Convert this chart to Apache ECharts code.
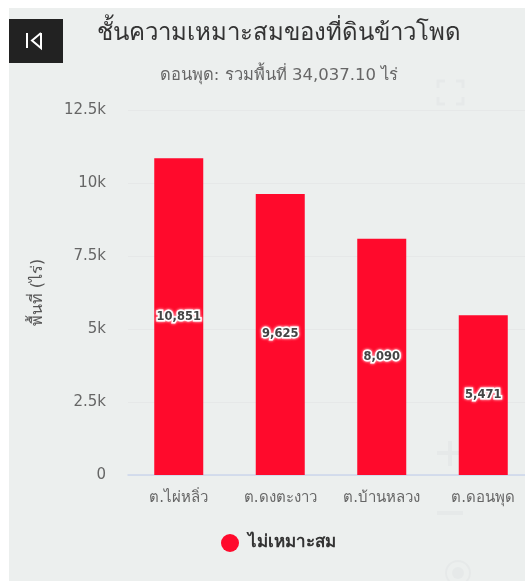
<!DOCTYPE html>
<html>
<head>
<meta charset="utf-8">
<style>html,body{margin:0;padding:0;background:#fff;overflow:hidden}#main{width:525px;height:581px}</style>
<script src="https://cdn.jsdelivr.net/npm/echarts@6/dist/echarts.min.js"></script>
</head>
<body>
<div id="main"></div>
<script>
var categories = ['ต.ไผ่หลิ่ว', 'ต.ดงตะงาว', 'ต.บ้านหลวง', 'ต.ดอนพุด'];
var values = [10851, 9625, 8090, 5471];
var seriesName = 'ไม่เหมาะสม';
var titleText = 'ชั้นความเหมาะสมของที่ดินข้าวโพด';
var subtitleText = 'ดอนพุด: รวมพื้นที่ 34,037.10 ไร่';
var yName = 'พื้นที่ (ไร่)';

var font = '"DejaVu Sans", "Noto Sans", sans-serif';
var ghost = '#e6e9e9';
var myChart = echarts.init(document.getElementById('main'), null, { renderer: 'canvas' });

function bracket(points) {
  return { type: 'polyline', z: -9, shape: { points: points }, style: { fill: 'none', stroke: ghost, lineWidth: 3 } };
}

var option = {
  animation: false,
  backgroundColor: '#ffffff',
  graphic: [
    { type: 'rect', z: -10, shape: { x: 9, y: 8, width: 516, height: 573 }, style: { fill: '#ecefee' } },
    // faint map controls showing through the panel
    bracket([[438, 88], [438, 81], [445, 81]]),
    bracket([[456, 81], [463, 81], [463, 88]]),
    bracket([[438, 97], [438, 104], [445, 104]]),
    bracket([[456, 104], [463, 104], [463, 97]]),
    { type: 'rect', z: -9, shape: { x: 437, y: 451, width: 26, height: 4 }, style: { fill: ghost } },
    { type: 'rect', z: -9, shape: { x: 448, y: 441, width: 4, height: 25 }, style: { fill: ghost } },
    { type: 'rect', z: -9, shape: { x: 437, y: 511, width: 26, height: 4 }, style: { fill: ghost } },
    { type: 'circle', z: -9, shape: { cx: 458, cy: 573, r: 12 }, style: { fill: 'none', stroke: ghost, lineWidth: 2 } },
    { type: 'circle', z: -9, shape: { cx: 458, cy: 573, r: 6 }, style: { fill: ghost } },
    // back button
    { type: 'rect', z: 10, shape: { x: 9, y: 19, width: 54, height: 44 }, style: { fill: '#222222' } },
    { type: 'rect', z: 11, shape: { x: 26, y: 33, width: 2, height: 15 }, style: { fill: '#ffffff' } },
    { type: 'polyline', z: 11, shape: { points: [[41, 33], [32, 40.5], [41, 48], [41, 33]] }, style: { fill: 'none', stroke: '#ffffff', lineWidth: 2 } }
  ],
  title: {
    text: titleText,
    subtext: subtitleText,
    left: 274,
    top: 17,
    textAlign: 'center',
    itemGap: 21,
    textStyle: { fontFamily: font, fontSize: 24, fontWeight: 'normal', color: '#333333' },
    subtextStyle: { fontFamily: font, fontSize: 16.5, color: '#666666' }
  },
  legend: {
    data: [seriesName],
    left: 216,
    top: 529,
    icon: 'circle',
    itemWidth: 18,
    itemHeight: 18,
    textStyle: { fontFamily: font, fontSize: 17, fontWeight: 'bold', color: '#333333', padding: [0, 0, 0, 4] }
  },
  grid: { left: 128, top: 110, width: 406, height: 365, outerBoundsMode: 'none' },
  xAxis: {
    type: 'category',
    data: categories,
    axisTick: { show: false },
    axisLine: { lineStyle: { color: '#ccd6eb', width: 1.5 } },
    axisLabel: { fontFamily: font, fontSize: 15, color: '#666666', margin: 16, interval: 0 }
  },
  yAxis: {
    type: 'value',
    min: 0,
    max: 12500,
    interval: 2500,
    name: yName,
    nameLocation: 'middle',
    nameGap: 82,
    nameRotate: 90,
    nameTextStyle: { fontFamily: font, fontSize: 16, color: '#555555' },
    axisLine: { show: false },
    axisTick: { show: false },
    splitLine: { lineStyle: { color: '#e6e8e8' } },
    axisLabel: {
      fontFamily: font,
      fontSize: 15,
      color: '#666666',
      margin: 22,
      padding: [5, 0, 0, 0],
      formatter: function (v) { return v === 0 ? '0' : (v / 1000) + 'k'; }
    }
  },
  series: [{
    name: seriesName,
    type: 'bar',
    data: values,
    barWidth: 49,
    itemStyle: { color: '#ff0a2c' },
    label: {
      show: true,
      position: 'inside',
      fontFamily: font,
      fontSize: 11.5,
      fontWeight: 'bold',
      color: '#444444',
      textBorderColor: '#ffffff',
      textBorderWidth: 3,
      textShadowColor: '#ffffff',
      textShadowBlur: 3,
      formatter: function (p) { return p.value.toLocaleString('en-US'); }
    }
  }]
};
myChart.setOption(option);
</script>
</body>
</html>
